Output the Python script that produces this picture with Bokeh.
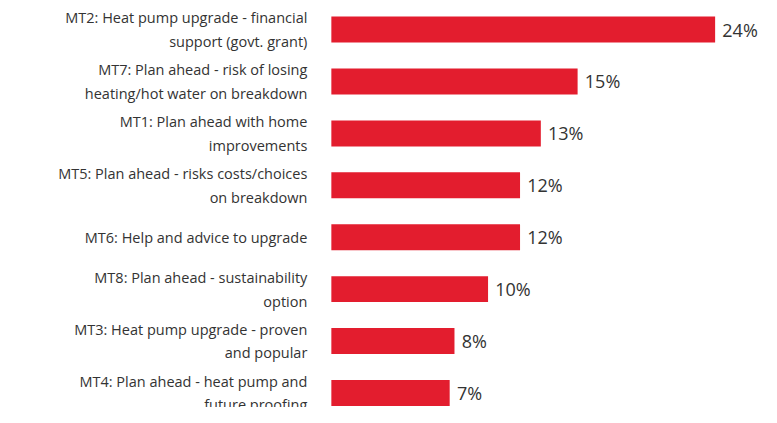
from bokeh.plotting import figure
from bokeh.models import Range1d, ColumnDataSource
from bokeh.core.properties import value
from bokeh.embed import file_html
from bokeh.resources import INLINE

labels = ["MT2: Heat pump upgrade - financial\nsupport (govt. grant)",
          "MT7: Plan ahead - risk of losing\nheating/hot water on breakdown",
          "MT1: Plan ahead with home\nimprovements",
          "MT5: Plan ahead - risks costs/choices\non breakdown",
          "MT6: Help and advice to upgrade",
          "MT8: Plan ahead - sustainability\noption",
          "MT3: Heat pump upgrade - proven\nand popular",
          "MT4: Plan ahead - heat pump and\nfuture proofing"]
values = [24.0, 15.4, 13.1, 11.8, 11.8, 9.8, 7.7, 7.4]

ys = list(range(len(values)))
src = ColumnDataSource(dict(y=ys, v=values, lab=labels,
                            vt=[f"{round(v)}%" for v in values],
                            vx=[v + 0.45 for v in values],
                            lx=[-1.5] * len(values)))

p = figure(width=761, height=407, output_backend="svg", toolbar_location=None,
           x_range=Range1d(-20.69, 26.9), y_range=Range1d(7.28, -0.56),
           min_border=0, outline_line_color=None)
p.axis.visible = False
p.grid.visible = False
p.hbar(y="y", left=0, right="v", height=0.5, source=src, color="#E31D2E", line_color=None)
p.text(x="lx", y="y", text="lab", source=src, text_align="right", text_baseline="middle",
       text_font=value("Open Sans"), text_font_size="14.5px", text_color="#333333",
       text_line_height=1.25)
p.text(x="vx", y="y", text="vt", source=src, text_align="left", text_baseline="middle",
       text_font=value("Open Sans"), text_font_size="18px", text_color="#333333")

open("out.html", "w").write(file_html(p, INLINE))
